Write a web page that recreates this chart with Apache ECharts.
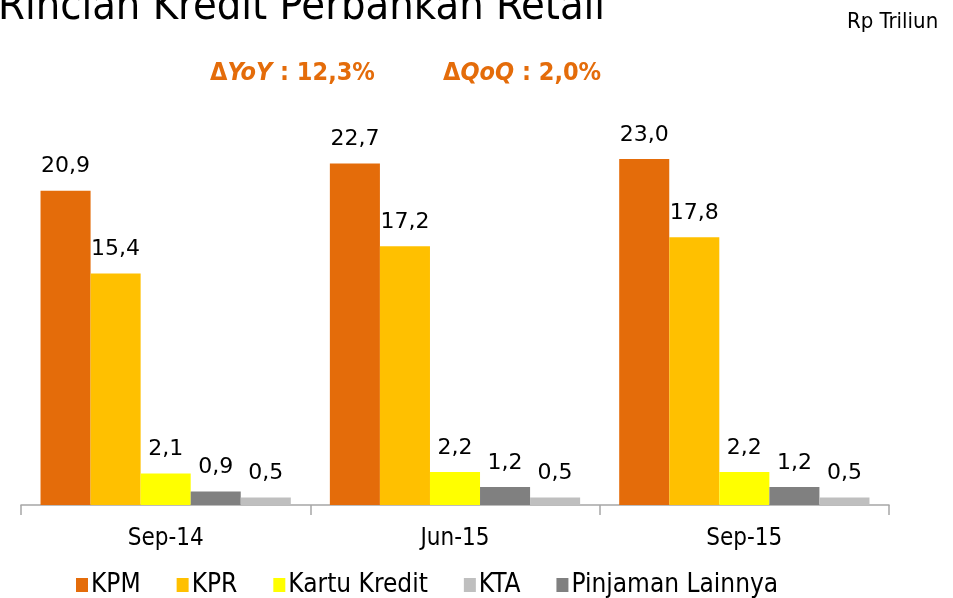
<!DOCTYPE html>
<html>
<head>
<meta charset="utf-8">
<script src="https://cdn.jsdelivr.net/npm/echarts@6/dist/echarts.min.js"></script>
<style>
    html, body { margin: 0; padding: 0; background: #fff; }
    #chart { width: 953px; height: 598px; }
</style>
</head>
<body>
<div id="chart"></div>
<script>
const categories = ['Sep-14', 'Jun-15', 'Sep-15'];
const kpm = [20.9, 22.7, 23.0];
const kpr = [15.4, 17.2, 17.8];
const kartuKredit = [2.1, 2.2, 2.2];
const pinjamanLainnya = [0.9, 1.2, 1.2];
const kta = [0.5, 0.5, 0.5];

const narrow = "'DejaVu Sans Condensed', 'Liberation Sans Narrow', sans-serif";
const orange = '#E46C0A';

const seriesDef = [
    { name: 'KPM', data: kpm, color: '#E46C0A' },
    { name: 'KPR', data: kpr, color: '#FFC000' },
    { name: 'Kartu Kredit', data: kartuKredit, color: '#FFFF00' },
    { name: 'Pinjaman Lainnya', data: pinjamanLainnya, color: '#808080' },
    { name: 'KTA', data: kta, color: '#BFBFBF' },
];

const deltaRich = {
    b: { fontSize: 25, fontWeight: 'bold', fontFamily: narrow, fill: orange },
    i: { fontSize: 25, fontWeight: 'bold', fontStyle: 'italic', fontFamily: narrow, fill: orange }
};

let myChart = echarts.init(document.getElementById('chart'));
myChart.setOption({
    animation: false,
    grid: { left: 21, right: 64, top: 129, bottom: 93 },
    graphic: [{
        type: 'text', left: -2, top: -14,
        style: { text: 'Rincian Kredit Perbankan Retail', font: '43px ' + narrow, fill: '#000' }
    }, {
        type: 'text', left: 847, top: 11,
        style: { text: 'Rp Triliun', font: '22px ' + narrow, fill: '#000' }
    }, {
        type: 'text', left: 210, top: 61,
        style: { text: '{b|Δ}{i|YoY}{b| : 12,3%}', rich: deltaRich }
    }, {
        type: 'text', left: 443, top: 61,
        style: { text: '{b|Δ}{i|QoQ}{b| : 2,0%}', rich: deltaRich }
    }],
    legend: {
        top: 567,
        left: 71,
        data: ['KPM', 'KPR', 'Kartu Kredit', 'KTA', 'Pinjaman Lainnya'],
        icon: 'rect',
        itemWidth: 12,
        itemHeight: 14,
        itemGap: 36,
        textStyle: { fontSize: 26, fontFamily: narrow, color: '#000', padding: [0, 0, 0, -2] }
    },
    xAxis: {
        type: 'category',
        data: categories,
        axisLine: { lineStyle: { color: '#A6A6A6', width: 1.5 } },
        axisTick: { show: true, length: 10, lineStyle: { color: '#A6A6A6', width: 1.5 } },
        axisLabel: { fontSize: 24, fontFamily: narrow, color: '#000', margin: 22 }
    },
    yAxis: {
        type: 'value', min: 0, max: 25, show: false,
        splitLine: { show: false }
    },
    series: seriesDef.map(s => ({
        name: s.name,
        type: 'bar',
        data: s.data,
        barGap: '0%',
        barCategoryGap: '13.5%',
        itemStyle: { color: s.color },
        label: {
            show: true,
            position: 'top',
            distance: 13,
            fontSize: 22,
            fontFamily: "'DejaVu Sans', sans-serif",
            color: '#000',
            formatter: p => p.value.toFixed(1).replace('.', ',')
        }
    }))
});
window.addEventListener('resize', myChart.resize);
</script>
</body>
</html>
